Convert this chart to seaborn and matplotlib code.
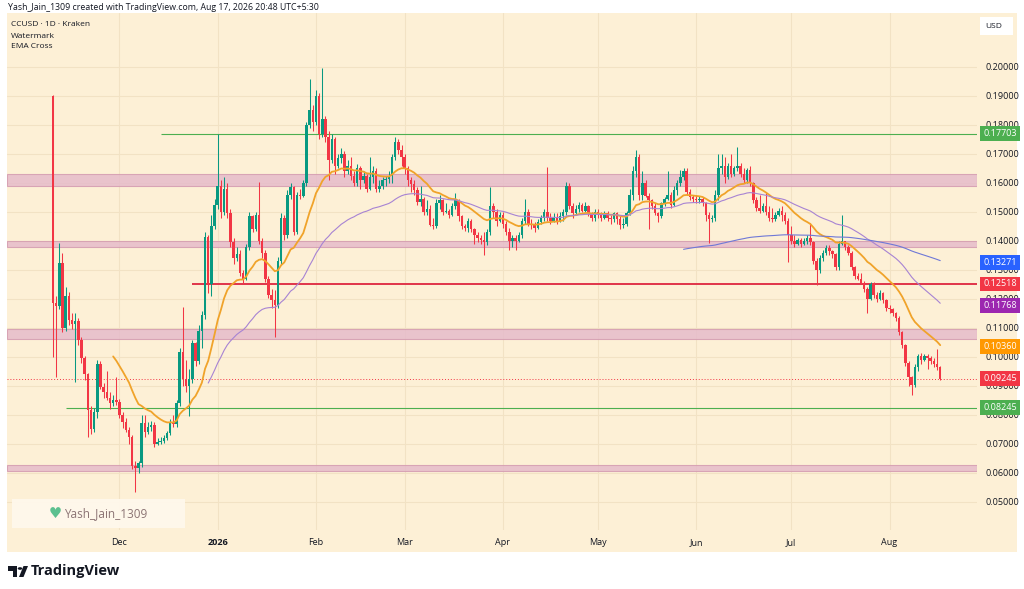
import numpy as np
import pandas as pd
import matplotlib
matplotlib.use("Agg")
import matplotlib.pyplot as plt
import matplotlib.dates as mdates
import matplotlib.transforms as mtrans
from matplotlib.patches import Rectangle, Circle, Polygon
import seaborn as sns

sns.set_theme(style="white")
plt.rcParams["font.family"] = ["Open Sans", "DejaVu Sans"]

# ---------------- data (CCUSD, 1D, Kraken) ----------------
start_date = "2025-11-10"
first_open = 0.1900
closes = [
    .1185, .1176, .1323, .1100, .1210, .1128, .1115, .1125, .1060, .0995,
    .0940, .0817, .0750, .0812, .0975, .0898, .0878, .0860, .0840, .0852,
    .0845, .0800, .0775, .0748, .0725, .0625, .0616, .0634, .0771, .0740,
    .0760, .0765, .0700, .0708, .0712, .0720, .0737, .0777, .0770, .0840,
    .1018, .0925, .0900, .0925, .1047, .0985, .1090, .1145, .1415, .1250,
    .1450, .1525, .1590, .1500, .1580, .1495, .1395, .1340, .1355, .1290,
    .1270, .1380, .1485, .1440, .1490, .1400, .1360, .1270, .1215, .1195,
    .1180, .1330, .1480, .1420, .1560, .1585, .1430, .1560, .1555, .1600,
    .1800, .1850, .1810, .1900, .1770, .1820, .1760, .1680, .1750, .1660,
    .1685, .1700, .1640, .1660, .1625, .1600, .1650, .1610, .1625, .1580,
    .1620, .1640, .1580, .1590, .1610, .1615, .1625, .1690, .1740, .1715,
    .1690, .1650, .1610, .1595, .1575, .1535, .1545, .1500, .1510, .1455,
    .1450, .1530, .1540, .1500, .1505, .1490, .1520, .1540, .1485, .1450,
    .1445, .1470, .1440, .1420, .1410, .1405, .1395, .1430, .1520, .1500,
    .1470, .1490, .1460, .1430, .1400, .1410, .1400, .1420, .1470, .1500,
    .1460, .1455, .1445, .1465, .1480, .1500, .1480, .1470, .1480, .1470,
    .1485, .1500, .1590, .1520, .1495, .1510, .1525, .1505, .1520, .1495,
    .1480, .1500, .1490, .1480, .1495, .1480, .1475, .1495, .1475, .1455,
    .1460, .1495, .1560, .1640, .1690, .1560, .1600, .1555, .1540, .1520,
    .1495, .1485, .1530, .1545, .1560, .1525, .1575, .1600, .1620, .1640,
    .1570, .1550, .1545, .1540, .1545, .1530, .1490, .1475, .1480, .1560,
    .1650, .1660, .1620, .1660, .1630, .1650, .1660, .1630, .1610, .1645,
    .1600, .1540, .1515, .1505, .1520, .1500, .1480, .1475, .1490, .1505,
    .1490, .1470, .1420, .1400, .1390, .1405, .1390, .1400, .1410, .1395,
    .1330, .1300, .1340, .1360, .1375, .1365, .1355, .1310, .1390, .1400,
    .1380, .1360, .1310, .1280, .1270, .1255, .1235, .1200, .1250, .1215,
    .1200, .1220, .1195, .1170, .1165, .1150, .1135, .1085, .1040, .0980,
    .0930, .0905, .0965, .1005, .0990, .1005, .0995, .0985, .0975, .0965,
    .09245,
]
highs = [
    .1903, .1210, .1392, .1360, .1240, .1225, .1150, .1150, .1135, .1070,
    .1005, .0945, .0830, .0825, .0990, .0985, .0910, .0950, .0880, .0870,
    .0930, .0855, .0810, .0790, .0760, .0730, .0640, .0640, .0800, .0800,
    .0775, .0780, .0775, .0720, .0725, .0730, .0745, .0785, .0800, .0850,
    .1030, .1174, .0990, .0960, .1060, .1050, .1110, .1160, .1430, .1420,
    .1490, .1545, .1770, .1610, .1620, .1600, .1510, .1410, .1380, .1370,
    .1300, .1390, .1500, .1490, .1500, .1605, .1410, .1370, .1280, .1235,
    .1230, .1345, .1495, .1490, .1575, .1600, .1590, .1570, .1580, .1610,
    .1810, .1960, .1870, .1920, .1910, .1995, .1830, .1780, .1770, .1760,
    .1700, .1720, .1710, .1680, .1690, .1640, .1665, .1660, .1640, .1630,
    .1690, .1660, .1650, .1610, .1620, .1625, .1640, .1700, .1760, .1750,
    .1730, .1700, .1660, .1620, .1610, .1585, .1590, .1550, .1540, .1525,
    .1480, .1545, .1560, .1545, .1530, .1510, .1530, .1565, .1545, .1490,
    .1460, .1480, .1475, .1445, .1430, .1420, .1430, .1440, .1587, .1530,
    .1510, .1500, .1500, .1470, .1445, .1420, .1420, .1430, .1480, .1545,
    .1510, .1475, .1465, .1475, .1490, .1510, .1656, .1495, .1495, .1495,
    .1500, .1510, .1605, .1600, .1530, .1525, .1535, .1530, .1535, .1525,
    .1500, .1510, .1510, .1500, .1505, .1505, .1490, .1500, .1500, .1485,
    .1480, .1505, .1580, .1660, .1713, .1700, .1640, .1610, .1565, .1545,
    .1530, .1500, .1535, .1550, .1640, .1570, .1590, .1610, .1645, .1650,
    .1650, .1580, .1560, .1560, .1555, .1550, .1535, .1500, .1490, .1575,
    .1700, .1700, .1690, .1670, .1700, .1660, .1725, .1670, .1650, .1650,
    .1660, .1605, .1550, .1560, .1530, .1565, .1520, .1515, .1500, .1515,
    .1520, .1500, .1480, .1450, .1420, .1410, .1410, .1410, .1420, .1461,
    .1400, .1340, .1350, .1370, .1385, .1385, .1370, .1360, .1400, .1490,
    .1400, .1385, .1365, .1315, .1290, .1290, .1262, .1240, .1260, .1258,
    .1225, .1230, .1225, .1200, .1180, .1170, .1155, .1140, .1090, .1045,
    .0985, .0935, .0975, .1012, .1015, .1012, .1010, .1005, .0995, .1028,
    .0970,
]
lows = [
    .1000, .0932, .1165, .1085, .1090, .1110, .1095, .0915, .1040, .0980,
    .0920, .0725, .0735, .0740, .0790, .0890, .0860, .0850, .0820, .0830,
    .0835, .0790, .0755, .0740, .0700, .0615, .0536, .0600, .0620, .0725,
    .0735, .0745, .0690, .0695, .0700, .0705, .0715, .0730, .0760, .0760,
    .0830, .0900, .0880, .0795, .0910, .0970, .0975, .1030, .1130, .1220,
    .1210, .1440, .1510, .1480, .1490, .1480, .1380, .1320, .1330, .1280,
    .1250, .1265, .1370, .1430, .1435, .1390, .1340, .1260, .1205, .1170,
    .1068, .1170, .1320, .1405, .1410, .1545, .1420, .1425, .1545, .1550,
    .1590, .1790, .1780, .1800, .1750, .1760, .1740, .1610, .1670, .1630,
    .1650, .1670, .1620, .1630, .1610, .1590, .1590, .1580, .1600, .1570,
    .1575, .1600, .1570, .1570, .1580, .1590, .1600, .1600, .1680, .1700,
    .1660, .1630, .1590, .1570, .1560, .1525, .1520, .1490, .1490, .1450,
    .1440, .1445, .1510, .1490, .1495, .1480, .1485, .1510, .1470, .1440,
    .1435, .1430, .1430, .1390, .1395, .1390, .1352, .1385, .1420, .1480,
    .1450, .1465, .1445, .1420, .1370, .1380, .1370, .1395, .1410, .1460,
    .1450, .1440, .1430, .1440, .1460, .1470, .1470, .1460, .1465, .1460,
    .1465, .1470, .1490, .1510, .1480, .1490, .1500, .1500, .1500, .1485,
    .1470, .1470, .1480, .1470, .1475, .1470, .1460, .1465, .1460, .1440,
    .1445, .1450, .1490, .1540, .1620, .1540, .1540, .1550, .1440, .1510,
    .1490, .1465, .1480, .1520, .1540, .1515, .1520, .1560, .1590, .1610,
    .1560, .1540, .1535, .1530, .1530, .1520, .1470, .1392, .1465, .1470,
    .1540, .1630, .1600, .1615, .1620, .1625, .1640, .1620, .1600, .1600,
    .1590, .1530, .1505, .1495, .1500, .1490, .1470, .1465, .1470, .1485,
    .1470, .1460, .1329, .1390, .1380, .1385, .1380, .1385, .1390, .1385,
    .1320, .1247, .1290, .1330, .1350, .1350, .1340, .1300, .1300, .1385,
    .1370, .1350, .1300, .1270, .1265, .1250, .1225, .1150, .1195, .1205,
    .1190, .1195, .1185, .1160, .1150, .1140, .1125, .1075, .1030, .0970,
    .0900, .0869, .0895, .0950, .0975, .0985, .0960, .0975, .0965, .0955,
    .0920,
]

# drawn zones and levels
zone_low = [0.1591, 0.1378, 0.1061, 0.0608]
zone_high = [0.1630, 0.1400, 0.1097, 0.0629]
level_values = [0.17703, 0.12518, 0.08245]
level_starts = ["2025-12-14", "2025-12-24", "2025-11-14"]
last_price = 0.09245
ema_lengths = [20, 50, 200]
ema_tags = ["0.10360", "0.11768", "0.13271"]

price_ticks = [0.05, 0.06, 0.07, 0.08, 0.09, 0.10, 0.11, 0.12, 0.13,
               0.14, 0.15, 0.16, 0.17, 0.18, 0.19, 0.20]
month_ticks = ["2025-12-01", "2026-01-01", "2026-02-01", "2026-03-01",
               "2026-04-01", "2026-05-01", "2026-06-01", "2026-07-01",
               "2026-08-01"]
month_labels = ["Dec", "2026", "Feb", "Mar", "Apr", "May", "Jun", "Jul", "Aug"]

# ---------------- styles ----------------
BG = "#fdf0d6"
GRID = "#f2e2c4"
UP = "#089981"
DOWN = "#f23645"
EMA_COLORS = ["#f0a32a", "#a783d3", "#6f78d6"]
EMA_WIDTHS = [1.3, 0.8, 0.8]
TAG_COLORS = ["#ff9800", "#9c27b0", "#2962ff"]
LEVEL_COLORS = ["#4caf50", "#e0344a", "#4caf50"]
LEVEL_WIDTHS = [0.8, 1.4, 0.8]
LEVEL_TAG_COLORS = ["#4caf50", "#f23645", "#4caf50"]

W, H = 1024, 589
fig = plt.figure(figsize=(W / 100, H / 100), dpi=100)
fig.patch.set_facecolor("white")


def fx(px):
    return px / W


def fy(py):
    return 1 - py / H


# beige container (behind the axes)
fig.patches.append(Rectangle((fx(7), fy(552)), fx(1017) - fx(7), fy(13) - fy(552),
                             transform=fig.transFigure, fc=BG, ec="none", zorder=-10))

ax = fig.add_axes([fx(7), fy(530), fx(977) - fx(7), fy(13) - fy(530)])
ax.set_zorder(1)
ax.set_facecolor(BG)
for s in ax.spines.values():
    s.set_visible(False)

dates = pd.date_range(start_date, periods=len(closes), freq="D")
xd = mdates.date2num(dates)
c = np.array(closes)
o = np.array([first_open] + closes[:-1])
hi = np.array(highs)
lo = np.array(lows)
up = c >= o
cols = np.where(up, UP, DOWN)

# zones
for zl, zh in zip(zone_low, zone_high):
    ax.axhspan(zl, zh, facecolor="#e6bccb", edgecolor="#d49bb0", lw=0.8,
               alpha=0.85, zorder=1)

# candles
ax.vlines(xd, lo, hi, colors=cols, lw=0.75, zorder=3)
body_h = np.abs(c - o)
body_h = np.where(body_h < 0.0003, 0.0003, body_h)
ax.bar(xd, body_h, bottom=np.minimum(o, c), width=0.78, color=cols,
       edgecolor="none", zorder=4)

# levels
x_right = xd[0] + 291.6
for val, st, colr, lw in zip(level_values, level_starts, LEVEL_COLORS, LEVEL_WIDTHS):
    x0 = mdates.date2num(pd.Timestamp(st))
    ax.hlines(val, x0, x_right, colors=colr, lw=lw, zorder=2)

# last price dotted line
ax.axhline(last_price, color=DOWN, lw=0.7, ls=(0, (1, 2)), zorder=2)


# EMAs (TradingView style: SMA seed)
def ema(vals, n):
    out = np.full(len(vals), np.nan)
    out[n - 1] = np.mean(vals[:n])
    a = 2.0 / (n + 1)
    for k in range(n, len(vals)):
        out[k] = a * vals[k] + (1 - a) * out[k - 1]
    return out


for n, colr, lw in zip(ema_lengths, EMA_COLORS, EMA_WIDTHS):
    e = ema(c, n)
    m = ~np.isnan(e)
    sns.lineplot(x=xd[m], y=e[m], ax=ax, color=colr, lw=lw, zorder=5)

ax.set_xlim(xd[0] - 14.5, x_right)
ax.set_ylim(0.04034, 0.21862)

# axes ticks
ax.yaxis.tick_right()
ax.set_yticks(price_ticks)
ax.set_yticklabels([f"{v:.5f}" for v in price_ticks])
ax.tick_params(axis="y", length=0, pad=6, labelsize=6.5, labelcolor="#131722")
ax.set_xticks(mdates.date2num(pd.to_datetime(month_ticks)))
ax.set_xticklabels(month_labels)
ax.tick_params(axis="x", length=0, pad=6, labelsize=6.5, labelcolor="#131722")
for t in ax.get_xticklabels():
    if t.get_text() == "2026":
        t.set_fontweight("bold")
ax.set_xlabel("")
ax.set_ylabel("")
ax.grid(True, color=GRID, lw=0.8)
ax.set_axisbelow(True)

# price tags on the axis
blend = mtrans.blended_transform_factory(ax.transAxes, ax.transData)
tags = [(level_values[0], f"{level_values[0]:.5f}", LEVEL_TAG_COLORS[0]),
        (level_values[1], f"{level_values[1]:.5f}", LEVEL_TAG_COLORS[1]),
        (level_values[2], f"{level_values[2]:.5f}", LEVEL_TAG_COLORS[2]),
        (last_price, f"{last_price:.5f}", DOWN)]
for txt, colr in zip(ema_tags, TAG_COLORS):
    tags.append((float(txt), txt, colr))
for val, txt, colr in tags:
    ax.text(1.0065, val, txt, transform=blend, ha="left", va="center",
            fontsize=6.5, color="white", zorder=20, clip_on=False,
            bbox=dict(boxstyle="square,pad=0.32", fc=colr, ec="none"))

# USD box
fig.patches.append(Rectangle((fx(980), fy(35)), fx(33), fy(17) - fy(35),
                             transform=fig.transFigure, fc="white", ec="none", zorder=5))
fig.text(fx(985), fy(26), "USD", fontsize=6, color="#131722", va="center", zorder=6)

# header + legend
fig.text(fx(8), fy(7), "Yash_Jain_1309 created with TradingView.com, Aug 17, 2026 20:48 UTC+5:30",
         fontsize=6.3, color="#131722", va="center")
for py, txt in [(24, "CCUSD · 1D · Kraken"), (36, "Watermark"), (47, "EMA Cross")]:
    fig.text(fx(11), fy(py), txt, fontsize=6, color="#131722", va="center", zorder=6)

# watermark
fig.patches.append(Rectangle((fx(12), fy(528)), fx(173), fy(499) - fy(528),
                             transform=fig.transFigure, fc="#fff8ec", ec="none",
                             alpha=0.95, zorder=6))
fig.text(fx(49), fy(514), "\u2665", fontsize=10.5, color="#5cc08f", va="center",
         family=["DejaVu Sans"], zorder=7)
fig.text(fx(64), fy(514), "Yash_Jain_1309", fontsize=8.5, color="#8c7474",
         va="center", zorder=7)

# TradingView logo
logo = "#131722"
fig.patches.append(Rectangle((fx(8), fy(571)), fx(9), fy(566) - fy(571),
                             transform=fig.transFigure, fc=logo, ec="none"))
fig.patches.append(Rectangle((fx(12.5), fy(577)), fx(4.5), fy(566) - fy(577),
                             transform=fig.transFigure, fc=logo, ec="none"))
fig.patches.append(Circle((fx(20), fy(568.5)), fx(2.3), transform=fig.transFigure,
                          fc=logo, ec="none"))
fig.patches.append(Polygon([(fx(19), fy(577)), (fx(23.5), fy(566)), (fx(28), fy(566)),
                            (fx(23.5), fy(577))], closed=True,
                           transform=fig.transFigure, fc=logo, ec="none"))
fig.text(fx(31), fy(571.5), "TradingView", fontsize=10.5, fontweight="bold",
         color=logo, va="center")

fig.savefig("out.png", dpi=100, facecolor="white")
